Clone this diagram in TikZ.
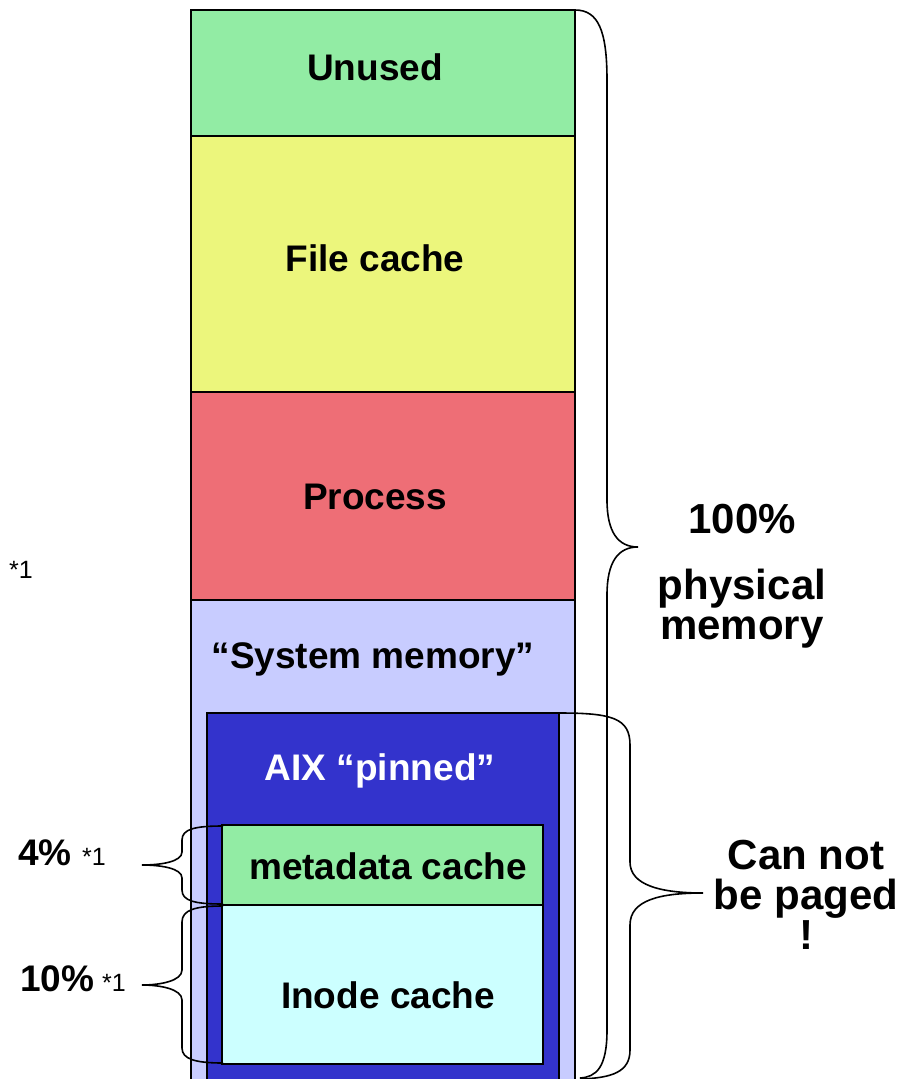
\documentclass[tikz,border=0pt]{standalone}
\usepackage{fontspec}
\setmainfont{Liberation Sans}
\definecolor{cUnused}{RGB}{146,236,164}
\definecolor{cFile}{RGB}{236,246,124}
\definecolor{cProc}{RGB}{238,110,118}
\definecolor{cSys}{RGB}{200,204,255}
\definecolor{cPin}{RGB}{51,51,204}
\definecolor{cInode}{RGB}{204,255,255}
\begin{document}
\begin{tikzpicture}[x=1pt,y=-1pt,
  blk/.style={draw=black,line width=2pt},
  lbl/.style={font=\fontsize{37}{40}\selectfont\bfseries,inner sep=0pt},
  big/.style={font=\fontsize{42}{40}\selectfont\bfseries,align=center,inner sep=0pt},
  note/.style={font=\fontsize{25}{28}\selectfont,inner sep=0pt},
  brace/.style={draw=black,line width=1.6pt}]
\useasboundingbox (0,0) rectangle (915,1079);
\begin{scope}
  \clip (0,0) rectangle (915,1079);
  % memory column
  \path[blk,fill=cUnused] (191,10) rectangle (575,136);
  \path[blk,fill=cFile] (191,136) rectangle (575,392);
  \path[blk,fill=cProc] (191,392) rectangle (575,600);
  \path[blk,fill=cSys] (191,600) rectangle (575,1095);
  \path[blk,fill=cPin] (207,713) rectangle (559,1095);
  \path[blk,fill=cUnused] (222,825) rectangle (543,905);
  \path[blk,fill=cInode] (222,905) rectangle (543,1064);
\end{scope}
% labels of the regions
\node[lbl] (unused) at (375,67) {Unused};
\node[lbl] (file) at (375,258) {File cache};
\node[lbl] (proc) at (375,497) {Process};
\node[lbl] (sys) at (373,659) {“System memory”};
\node[lbl,text=white] (pin) at (380,771) {AIX “pinned”};
\node[lbl] (meta) at (388,866) {metadata cache};
\node[lbl] (inode) at (388,995) {Inode cache};
% braces
\coordinate (bigtip) at (638,547);
\coordinate (pagetip) at (703,893);
\coordinate (metatip) at (142,865);
\coordinate (inodetip) at (142,985);
\path[brace] (575,10) .. controls (598,10) and (607,30) .. (607,80)
  -- (607,500) .. controls (607,532) and (618,547) .. (bigtip)
  .. controls (618,547) and (607,562) .. (607,595)
  -- (607,1030) .. controls (607,1068) and (596,1077) .. (580,1078);
\path[brace] (559,713) .. controls (612,713) and (630,718) .. (630,745)
  -- (630,862) .. controls (630,885) and (660,893) .. (pagetip)
  .. controls (660,893) and (630,900) .. (630,925)
  -- (630,1050) .. controls (630,1072) and (612,1078) .. (580,1079);
\path[brace] (223,826) .. controls (195,826) and (182,829) .. (182,840)
  -- (182,852) .. controls (182,862) and (160,865) .. (metatip)
  .. controls (160,865) and (182,868) .. (182,878)
  -- (182,890) .. controls (182,901) and (195,904) .. (223,904);
\path[brace] (223,906) .. controls (195,906) and (182,910) .. (182,922)
  -- (182,970) .. controls (182,981) and (160,985) .. (inodetip)
  .. controls (160,985) and (182,989) .. (182,1000)
  -- (182,1048) .. controls (182,1059) and (195,1063) .. (223,1063);
% side labels
\node[big] (hundred) at (742,519) {100\%};
\node[big] (phys) at (742,609) {physical\\memory};
\node[big] (paged) at (806,895) {Can not\\be paged\\!};
\node[lbl,anchor=west] (four) at (18,853) {4\%};
\node[note,anchor=west] (fourref) at (82,857) {*1};
\node[lbl,anchor=west] (ten) at (20,979) {10\%};
\node[note,anchor=west] (tenref) at (102,983) {*1};
\node[note,anchor=west] (sysref) at (9,570) {*1};
\end{tikzpicture}
\end{document}
